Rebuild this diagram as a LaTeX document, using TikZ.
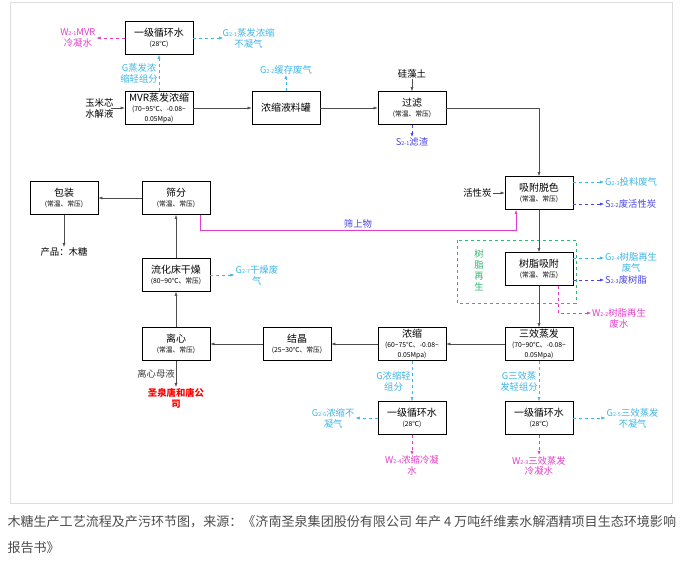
\documentclass[tikz,border=0pt]{standalone}
\usepackage{fontspec}
\setmainfont{Noto Sans CJK SC}
\usetikzlibrary{positioning,arrows.meta}
\definecolor{gas}{HTML}{3DB5E6}
\definecolor{water}{HTML}{E23CC8}
\definecolor{solid}{HTML}{4A44E0}
\definecolor{resin}{HTML}{2EB86E}
\definecolor{frame}{HTML}{DDDDDD}
\tikzset{
  box/.style={draw, thick, minimum width=68bp, minimum height=33bp, align=center, inner sep=1pt, font=\fontsize{10}{11}\selectfont},
  flow/.style={draw=black!70, -{Latex[length=4pt]}},
  gasline/.style={draw=gas, dashed, -{Latex[length=4pt]}},
  wline/.style={draw=water, dashed, -{Latex[length=4pt]}},
  sline/.style={draw=solid, dashed, -{Latex[length=4pt]}},
  lab/.style={font=\fontsize{9.4}{11}\selectfont, align=center, inner sep=1pt},
}
\newcommand{\sm}[1]{\\[-1pt]{\fontsize{6.8}{7.8}\selectfont #1}}
\newcommand{\idx}[1]{{\fontsize{5.5}{6}\selectfont #1}}
\begin{document}
\begin{tikzpicture}[x=1bp, y=-1bp]
\useasboundingbox (0,0) rectangle (684,565);
\draw[frame] (10,2) rectangle (672,503);
% boxes
\node[box] (cw1) at (159,38) {一级循环水\sm{(28℃)}};
\node[box] (mvr) at (159,108) {MVR蒸发浓缩\sm{(70\textasciitilde95℃、-0.08\textasciitilde}\sm{0.05Mpa)}};
\node[box] (tank) at (286,108) {浓缩液料罐};
\node[box] (filt) at (412,108) {过滤\sm{(常温、常压)}};
\node[box] (decol) at (539,193) {吸附脱色\sm{(常温、常压)}};
\node[box] (resin) at (539,269) {树脂吸附\sm{(常温、常压)}};
\node[box] (evap) at (539,344) {三效蒸发\sm{(70\textasciitilde90℃、-0.08\textasciitilde}\sm{0.05Mpa)}};
\node[box] (conc) at (412,344) {浓缩\sm{(60\textasciitilde75℃、-0.08\textasciitilde}\sm{0.05Mpa)}};
\node[box] (cryst) at (297,344) {结晶\sm{(25\textasciitilde30℃、常压)}};
\node[box] (cent) at (176,344) {离心\sm{(常温、常压)}};
\node[box] (dry) at (176,275) {流化床干燥\sm{(80\textasciitilde90℃、常压)}};
\node[box] (sieve) at (176,198) {筛分\sm{(常温、常压)}};
\node[box] (pack) at (64,198) {包装\sm{(常温、常压)}};
\node[box] (cw2) at (412,418) {一级循环水\sm{(28℃)}};
\node[box] (cw3) at (539,418) {一级循环水\sm{(28℃)}};
\draw[resin, thick, dashed] (457,240) rectangle (576,303);
\node[lab, text=resin] at (479,270) {树\\脂\\再\\生};
% main flow
\node[lab, left=10bp of mvr] (feed) {玉米芯\\水解液};
\draw[flow] (feed.east) ++(-4,0) -- (mvr);
\draw[flow] (mvr) -- (tank);
\draw[flow] (tank) -- (filt);
\node[lab, above=12bp of filt] (diat) {硅藻土};
\draw[flow] (diat) -- (filt);
\draw[flow] (filt.east) -| (decol.north);
\node[lab, left=12bp of decol] (carbon) {活性炭};
\draw[flow] (carbon) -- (decol);
\draw[flow] (decol) -- (resin);
\draw[flow] (resin) -- (evap);
\draw[flow] (evap) -- (conc);
\draw[flow] (conc) -- (cryst);
\draw[flow] (cryst) -- (cent);
\draw[flow] (cent) -- (dry);
\draw[flow] (dry) -- (sieve);
\draw[flow] (sieve) -- (pack);
\node[lab, below=32bp of pack] (prod) {产品：木糖};
\draw[flow] (pack) -- (prod);
\node[lab, below=26bp of cent, text=red] (corp) {\bfseries 圣泉唐和唐公\\\bfseries 司};
\draw[flow] (cent) -- node[lab, left, text=black!75] {离心母液} (corp.north);
\coordinate (sv) at (200,215);
\coordinate (dc) at (516,210);
\draw[draw=water, -{Latex[length=4pt]}] (sv) |- node[pos=0.75, above=1bp, lab, text=solid] {筛上物} (dc |- 0,230) -- (dc);
% emissions
\draw[gasline] (mvr) -- node[lab, left, text=gas] {G蒸发浓\\缩轻组分} (cw1);
\node[lab, text=water, left=28bp of cw1] (w21) {W\idx{2-1}MVR\\冷凝水};
\draw[wline] (cw1) -- (w21);
\node[lab, text=gas, right=28bp of cw1] (g21) {G\idx{2-1}蒸发浓缩\\不凝气};
\draw[gasline] (cw1) -- ++(64,0);
\node[lab, text=gas, above=16bp of tank] (g22) {G\idx{2-2}缓存废气};
\draw[gasline] (tank) -- (g22);
\node[lab, text=solid, below=12bp of filt] (s21) {S\idx{2-1}滤渣};
\draw[sline] (filt) -- (s21);
\node[lab, text=gas, anchor=west] (g23) at (604,182) {G\idx{2-3}投料废气};
\draw[gasline] (decol.east |- g23) -- (g23);
\node[lab, text=solid, anchor=west] (s22) at (604,204) {S\idx{2-2}废活性炭};
\draw[sline] (decol.east |- s22) -- (s22);
\node[lab, text=gas, anchor=west] (g24) at (604,262) {G\idx{2-4}树脂再生\\废气};
\draw[gasline] (resin.east |- 0,258) -- (g24.west |- 0,258);
\node[lab, text=solid, anchor=west] (s23) at (604,280) {S\idx{2-3}废树脂};
\draw[sline] (resin.east |- s23) -- (s23);
\node[lab, text=water, anchor=west] (w22) at (591,318) {W\idx{2-2}树脂再生\\废水};
\draw[wline] (558,286) |- (w22.west |- 0,313);
\draw[gasline] (conc) -- node[lab, left, text=gas] {G浓缩轻\\组分} (cw2);
\draw[gasline] (evap) -- node[lab, left, text=gas] {G三效蒸\\发轻组分} (cw3);
\node[lab, text=gas, left=22bp of cw2] (g26) {G\idx{2-6}浓缩不\\凝气};
\draw[gasline] (cw2) -- (g26);
\node[lab, text=gas, right=32bp of cw3] (g25) {G\idx{2-5}三效蒸发\\不凝气};
\draw[gasline] (cw3) -- (g25);
\node[lab, text=water, below=20bp of cw2] (w24) {W\idx{2-4}浓缩冷凝\\水};
\draw[wline] (cw2) -- (w24);
\node[lab, text=water, below=20bp of cw3] (w23) {W\idx{2-3}三效蒸发\\冷凝水};
\draw[wline] (cw3) -- (w23);
\node[lab, text=gas, right=24bp of dry] (g27) {G\idx{2-7}干燥废\\气};
\draw[gasline] (dry) -- (g27);
% caption
\node[anchor=west, text=black!70, font=\fontsize{13.1}{14}\selectfont] at (4,522) {木糖生产工艺流程及产污环节图，来源：《济南圣泉集团股份有限公司 年产 4 万吨纤维素水解酒精项目生态环境影响};
\node[anchor=west, text=black!70, font=\fontsize{13.1}{14}\selectfont] at (4,548) {报告书》};
\end{tikzpicture}
\end{document}
